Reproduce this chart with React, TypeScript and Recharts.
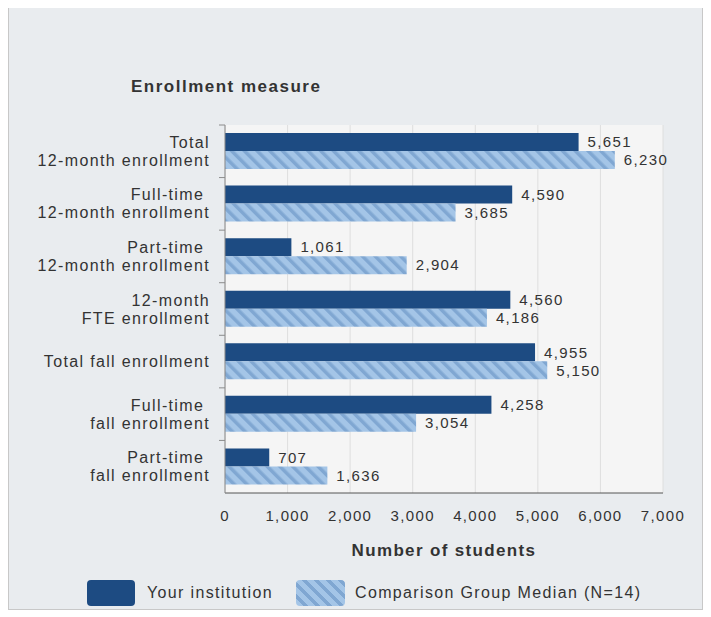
import React from "react";
import {
  BarChart,
  Bar,
  XAxis,
  YAxis,
  CartesianGrid,
  LabelList,
  Legend,
} from "recharts";

// categories, one string per row; "|" splits the label onto two lines
const categories = [
  "Total|12-month enrollment",
  "Full-time\u00a0|12-month enrollment",
  "Part-time\u00a0|12-month enrollment",
  "12-month|FTE enrollment",
  "Total fall enrollment",
  "Full-time\u00a0|fall enrollment",
  "Part-time\u00a0|fall enrollment",
];

const yourInstitution = [5651, 4590, 1061, 4560, 4955, 4258, 707];
const comparisonMedian = [6230, 3685, 2904, 4186, 5150, 3054, 1636];

const xTicks = [0, 1000, 2000, 3000, 4000, 5000, 6000, 7000];

const DARK = "#1d4b82";
const LIGHT = "#a4c5e7";
const STRIPE = "#80a7d2";
const FONT = "'Liberation Sans', Arial, sans-serif";
const SPACING = "1.35px";

const CHART_W = 693;
const CHART_H = 602;
const PLOT_H = 368;

const data = categories.map((name, i) => ({
  name,
  yours: yourInstitution[i],
  median: comparisonMedian[i],
}));

const fmt = (v: number) => v.toLocaleString("en-US");

function CategoryTick(props: any) {
  const { x, y, payload } = props;
  const lines = String(payload.value).split("|");
  const band = PLOT_H / categories.length;
  return (
    <g>
      <line
        x1={x + 9}
        x2={x + 15}
        y1={y - band / 2}
        y2={y - band / 2}
        stroke="#8c8c8c"
      />
      <text
        textAnchor="end"
        fontSize={16}
        fill="#333"
        fontFamily={FONT}
        style={{ letterSpacing: SPACING }}
      >
        {lines.map((ln, i) => (
          <tspan key={i} x={x} y={y + (i - (lines.length - 1) / 2) * 18 + 5.5}>
            {ln}
          </tspan>
        ))}
      </text>
    </g>
  );
}

function LegendContent() {
  const text: React.CSSProperties = {
    position: "absolute",
    top: 0,
    lineHeight: "30px",
    fontSize: 16,
    color: "#333",
    letterSpacing: SPACING,
    whiteSpace: "nowrap",
  };
  return (
    <div style={{ position: "relative", width: CHART_W, height: 30, fontFamily: FONT }}>
      <div
        style={{
          position: "absolute",
          left: 78,
          top: 2,
          width: 48,
          height: 26,
          borderRadius: 4,
          background: DARK,
        }}
      />
      <span style={{ ...text, left: 138 }}>Your institution</span>
      <div
        style={{
          position: "absolute",
          left: 287,
          top: 2,
          width: 49,
          height: 26,
          borderRadius: 4,
          background: `repeating-linear-gradient(45deg, ${LIGHT} 0px, ${LIGHT} 5px, ${STRIPE} 5px, ${STRIPE} 8.5px)`,
        }}
      />
      <span style={{ ...text, left: 346 }}>Comparison Group Median (N=14)</span>
    </div>
  );
}

export default function App() {
  return (
    <div
      style={{
        position: "relative",
        width: CHART_W,
        height: CHART_H,
        marginTop: -2,
        background: "#e9ecef",
        border: "1px solid #c8c8c8",
        fontFamily: FONT,
      }}
    >
      <div
        style={{
          position: "absolute",
          left: 122,
          top: 70,
          fontSize: 17,
          fontWeight: "bold",
          color: "#333",
          letterSpacing: "1.5px",
          lineHeight: "20px",
        }}
      >
        Enrollment measure
      </div>
      <BarChart
        width={CHART_W}
        height={CHART_H}
        data={data}
        layout="vertical"
        margin={{ top: 118, right: 39, bottom: 1, left: 16 }}
        barGap={0}
      >
        <defs>
          <pattern
            id="hatch"
            width={9}
            height={9}
            patternUnits="userSpaceOnUse"
            patternTransform="rotate(-45)"
          >
            <rect width={9} height={9} fill={LIGHT} />
            <rect width={3.5} height={9} fill={STRIPE} />
          </pattern>
        </defs>
        <CartesianGrid
          horizontal={false}
          fill="#f5f5f5"
          stroke="#dedede"
        />
        <XAxis
          type="number"
          domain={[0, 7000]}
          ticks={xTicks}
          tickFormatter={fmt}
          height={85}
          axisLine={{ stroke: "#555" }}
          tickLine={false}
          tickSize={6}
          tickMargin={11}
          tick={{ fontSize: 15, fill: "#333", fontFamily: FONT, style: { letterSpacing: SPACING } }}
          label={{
            value: "Number of students",
            position: "insideBottom",
            offset: 22,
            fontSize: 17,
            fontWeight: "bold",
            fill: "#333",
            fontFamily: FONT,
            style: { letterSpacing: SPACING },
          }}
        />
        <YAxis
          type="category"
          dataKey="name"
          width={200}
          axisLine={{ stroke: "#888" }}
          tickLine={false}
          tickSize={6}
          tickMargin={9}
          interval={0}
          tick={<CategoryTick />}
        />
        <Legend
          verticalAlign="bottom"
          content={<LegendContent />}
          wrapperStyle={{ left: 0, width: CHART_W, height: 30, bottom: 1 }}
        />
        <Bar
          dataKey="yours"
          name="Your institution"
          fill={DARK}
          barSize={18}
          isAnimationActive={false}
        >
          <LabelList
            dataKey="yours"
            position="right"
            offset={9}
            formatter={(v: any) => fmt(Number(v))}
            fontSize={15}
            fill="#333"
            fontFamily={FONT}
            style={{ letterSpacing: SPACING }}
          />
        </Bar>
        <Bar
          dataKey="median"
          name="Comparison Group Median (N=14)"
          fill="url(#hatch)"
          barSize={18}
          isAnimationActive={false}
        >
          <LabelList
            dataKey="median"
            position="right"
            offset={9}
            formatter={(v: any) => fmt(Number(v))}
            fontSize={15}
            fill="#333"
            fontFamily={FONT}
            style={{ letterSpacing: SPACING }}
          />
        </Bar>
      </BarChart>
    </div>
  );
}
